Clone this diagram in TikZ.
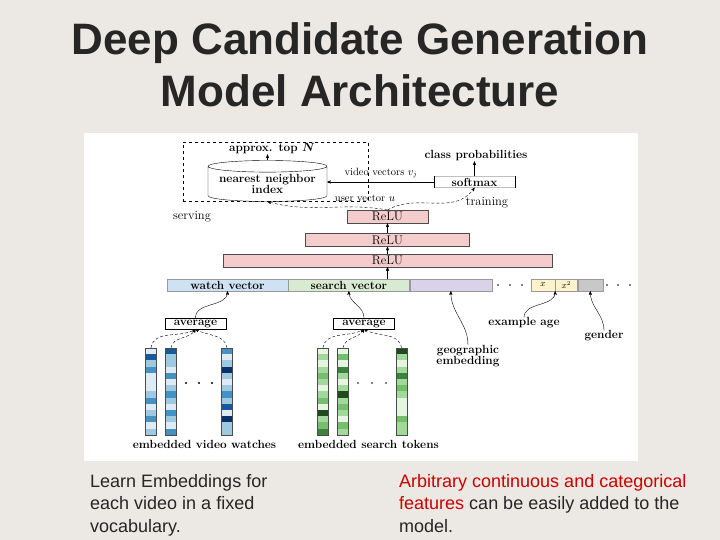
\documentclass[tikz,border=0pt]{standalone}
\usepackage{amsmath}
\usepackage{fontspec}
\newfontfamily\slidefont{Liberation Sans}
\usetikzlibrary{arrows,shapes,positioning}

\definecolor{slidebg}{RGB}{236,233,228}
\definecolor{slidetext}{RGB}{38,38,38}
\definecolor{slidered}{RGB}{204,0,0}
\definecolor{relupink}{RGB}{244,204,204}
\definecolor{watchblue}{RGB}{207,226,243}
\definecolor{searchgreen}{RGB}{217,234,211}
\definecolor{geopurple}{RGB}{217,210,233}
\definecolor{ageyellow}{RGB}{255,242,204}
\definecolor{gendergray}{RGB}{200,200,200}
\definecolor{bl1}{RGB}{222,235,247}
\definecolor{bl2}{RGB}{158,202,225}
\definecolor{bl3}{RGB}{66,146,198}
\definecolor{bl4}{RGB}{20,90,160}
\definecolor{bl5}{RGB}{8,48,107}
\definecolor{gr1}{RGB}{229,245,224}
\definecolor{gr2}{RGB}{161,217,155}
\definecolor{gr3}{RGB}{116,190,110}
\definecolor{gr4}{RGB}{60,130,60}
\definecolor{gr5}{RGB}{30,75,30}

% one embedding column: name, x, palette, shades
\newcommand{\embstrip}[4]{%
  \foreach \s [count=\k] in {#4}
    \fill[fill=#3\s] ({#2-5.5},{348+(\k-1)*6.2}) rectangle ++(11,6.2);
  \node[strip] (#1) at (#2,391.4) {};
}

\begin{document}
\begin{tikzpicture}[x=1pt,y=-1pt,>=stealth',node distance=7pt]
  \tikzstyle{lbl}=[inner sep=0,font=\fontsize{11.8}{11}\selectfont\bfseries]
  \tikzstyle{plainlbl}=[inner sep=0,font=\fontsize{12.5}{14}\selectfont]
  \tikzstyle{smalllbl}=[inner sep=0,font=\fontsize{10.5}{12}\selectfont]
  \tikzstyle{relu}=[draw=black!70,fill=relupink,minimum height=13,inner sep=0,font=\fontsize{12.5}{13}\selectfont]
  \tikzstyle{cell}=[draw=black!40,minimum height=12,inner sep=0,font=\fontsize{11.8}{12}\selectfont\bfseries]
  \tikzstyle{avgbox}=[draw,fill=white,minimum width=61,minimum height=11,inner sep=0,font=\fontsize{11.8}{12}\selectfont\bfseries]
  \tikzstyle{strip}=[draw=black!70,minimum width=11,minimum height=86.8,inner sep=0]
  \tikzstyle{note}=[font=\slidefont\fontsize{18}{21.6}\selectfont,text=slidetext,anchor=base west,inner sep=0]
  \tikzstyle{headline}=[font=\slidefont\bfseries\fontsize{44}{50}\selectfont,text=slidetext,anchor=base,inner sep=0]

  \useasboundingbox (0,0) rectangle (720,540);
  \fill[slidebg] (0,0) rectangle (720,540);
  \fill[white] (84,133) rectangle (638,461);

  \node[headline] (title1) at (360,55) {Deep Candidate Generation};
  \node[headline] (title2) at (360,107) {Model Architecture};

  % serving
  \node[draw,dashed,minimum width=185,minimum height=59,inner sep=0] (serve) at (275.5,171.5) {};
  \node[cylinder,shape border rotate=90,draw,aspect=0.12,minimum width=119,minimum height=41,
        inner sep=0,align=center,font=\fontsize{11.8}{11}\selectfont\bfseries] (nn) at (267.5,184) {nearest neighbor\\index};
  \node[lbl] (topn) at (272,149) {approx. top $\boldsymbol{N}$};
  \draw[->] (nn.north) -- (nn.north |- topn.south);
  \node[plainlbl] (serving) at (192,217) {serving};

  % training
  \node[draw=black!25,minimum width=81,minimum height=11,inner sep=0,font=\fontsize{11.8}{12}\selectfont\bfseries] (softmax) at (474.5,182) {softmax};
  \draw[semithick] (softmax.north west) -- (softmax.south west) (softmax.north east) -- (softmax.south east);
  \node[lbl] (probs) at (476,156) {class probabilities};
  \draw[->] (softmax.north) -- (softmax.north |- probs.south);
  \draw[->] (softmax.west) -- (softmax.west -| nn.east);
  \node[smalllbl] (vvec) at (381,173) {video vectors $v_j$};
  \node[plainlbl] (train) at (487,203) {training};

  % hidden layers
  \node[relu,minimum width=329] (relu1) at (387.5,260.5) {ReLU};
  \node[relu,minimum width=164,above=of relu1] (relu2) {ReLU};
  \node[relu,minimum width=81,above=10pt of relu2] (relu3) {ReLU};
  \draw[->] (relu1) -- (relu2);
  \draw[->] (relu2) -- (relu3);
  \node[smalllbl] (uvec) at (365,198) {user vector $u$};
  \draw[->,densely dashed] (relu3.north) to[out=170,in=-15] (nn.south);
  \draw[->,densely dashed] (relu3.north) to[out=30,in=-125] (softmax.south);

  % input features
  \node[cell,fill=watchblue,minimum width=121] (watch) at (227.5,285) {watch vector};
  \node[cell,fill=searchgreen,minimum width=121,right=0pt of watch] (search) {search vector};
  \node[cell,fill=geopurple,minimum width=82,right=0pt of search] (geo) {};
  \node[cell,fill=ageyellow,minimum width=24,font=\fontsize{9}{10}\selectfont] (agex) at (543,285) {$x$};
  \node[cell,fill=ageyellow,minimum width=22,font=\fontsize{9}{10}\selectfont,right=0pt of agex] (agexx) {$x^2$};
  \node[cell,fill=gendergray,minimum width=25,right=0pt of agexx] (gend) {};
  \foreach \d in {498,510,522,607,618,630}
    \fill (\d,285) circle (0.8pt);
  \draw[->] (relu1.south |- search.north) -- (relu1.south);

  \node[avgbox] (avgw) at (195.5,323.5) {average};
  \node[avgbox] (avgs) at (364,323.5) {average};
  \node[lbl,align=center] (geolbl) at (468,356) {geographic\\embedding};
  \node[lbl] (agelbl) at (524,323) {example age};
  \node[lbl] (genderlbl) at (604,336) {gender};
  \draw[->] (avgw.north) to[out=90,in=-90] (watch.south);
  \draw[->] (avgs.north) to[out=90,in=-90] (search.south);
  \draw[->] (geolbl.north) to[out=90,in=-90] (geo.south);
  \draw[->] (agelbl.north) to[out=90,in=-90] (agex.south east);
  \draw[->] (genderlbl.north) to[out=90,in=-90] (gend.south);

  % embeddings
  \embstrip{vw1}{151}{bl}{1,4,2,3,1,1,1,2,3,1,2,3,1,2}
  \embstrip{vw2}{171}{bl}{4,2,2,1,3,1,2,3,2,1,3,2,1,3}
  \embstrip{vw3}{227}{bl}{3,1,2,5,2,1,2,3,2,4,1,5,2,2}
  \embstrip{st1}{323}{gr}{1,2,1,2,3,2,1,2,3,1,5,2,3,4}
  \embstrip{st2}{343}{gr}{1,3,1,4,2,1,2,5,2,3,2,1,3,2}
  \embstrip{st3}{401.5}{gr}{5,2,1,2,4,2,3,2,1,1,1,3,2,2}
  \foreach \d in {186,199,212}
    \fill (\d,383) circle (1.1pt);
  \foreach \d in {358,372,386}
    \fill (\d,383) circle (0.9pt);
  \draw[->,densely dashed] (vw1.north) to[out=80,in=-150] (avgw.south);
  \draw[->,densely dashed] (vw2.north) to[out=80,in=-120] (avgw.south);
  \draw[->,densely dashed] (vw3.north) to[out=100,in=-30] (avgw.south);
  \draw[->,densely dashed] (st1.north) to[out=80,in=-150] (avgs.south);
  \draw[->,densely dashed] (st2.north) to[out=80,in=-120] (avgs.south);
  \draw[->,densely dashed] (st3.north) to[out=100,in=-30] (avgs.south);
  \node[lbl] (vwlbl) at (204.5,444) {embedded video watches};
  \node[lbl] (stlbl) at (368.5,444) {embedded search tokens};

  \node[note] (learn1) at (90,487) {Learn Embeddings for};
  \node[note] (learn2) at (90,509.5) {each video in a fixed};
  \node[note] (learn3) at (90,532) {vocabulary.};
  \node[note,text=slidered] (feat1) at (399,487) {Arbitrary continuous and categorical};
  \node[note] (feat2) at (399,509.5) {\textcolor{slidered}{features} can be easily added to the};
  \node[note] (feat3) at (399,532) {model.};
\end{tikzpicture}
\end{document}
